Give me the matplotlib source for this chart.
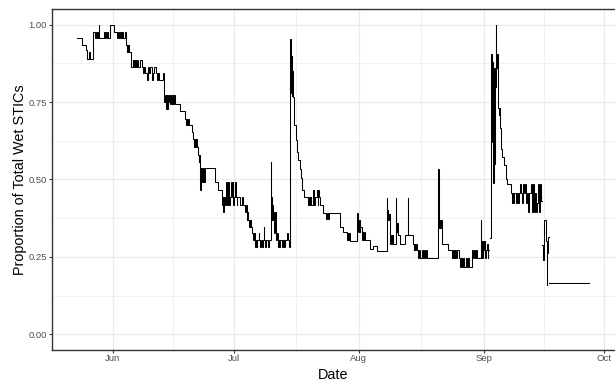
import numpy as np
import pandas as pd
import matplotlib
matplotlib.use("Agg")
import matplotlib.pyplot as plt
import matplotlib.dates as mdates
from matplotlib.ticker import FixedLocator, NullFormatter

# ---------------- data ----------------
ORIGIN = "2021-06-01"   # day offsets below are days since this date
nan = float("nan")

day_offsets = [
    -8.78, -7.54, -6.63, -6.30, -5.88, -5.63, -4.96, -4.27, -4.09, -3.90,
    -3.72, -3.45, -3.33, -2.28, -2.08, -1.79, -1.59, -1.34, -1.12, -0.67,
    0.32, 1.19, 1.36, 1.51, 1.69, 1.86, 2.03, 2.21, 2.38, 2.61,
    2.93, 3.42, 3.55, 3.67, 3.80, 3.92, 4.04, 4.42, 5.04, 5.29,
    5.61, 5.86, 6.15, 6.40, 6.77, 7.34, 7.52, 7.77, 8.09, 8.44,
    8.68, 8.93, 9.26, 9.68, 9.93, 10.25, 10.62, 10.99, 11.32, 11.61,
    12.48, 12.61, 12.98, 13.15, 13.35, 13.55, 13.72, 13.97, 14.14, 14.29,
    14.47, 14.64, 14.84, 15.01, 15.21, 15.41, 16.70, 17.94, 18.11, 18.31,
    18.51, 18.73, 18.93, 19.60, 20.00, 20.17, 20.37, 20.55, 20.79, 20.92,
    21.17, 21.29, 21.42, 21.54, 21.66, 21.79, 21.96, 22.11, 22.28, 22.48,
    22.66, 22.90, 25.38, 26.20, 27.05, 27.25, 27.44, 27.62, 27.87, 28.11,
    28.29, 28.49, 28.68, 28.86, 29.11, 29.36, 29.53, 29.73, 29.93, 30.10,
    30.35, 30.52, 30.72, 30.92, 31.59, 31.96, 32.21, 32.70, 32.95, 33.20,
    33.40, 33.65, 33.82, 33.95, 34.07, 34.19, 34.32, 34.49, 34.89, 35.06,
    35.24, 35.43, 35.68, 35.88, 36.18, 36.38, 36.55, 36.80, 37.05, 37.22,
    37.42, 37.54, 37.79, 38.04, 38.54, 38.78, 39.21, 39.28, 39.40, 39.53,
    39.65, 39.86, 40.11, 40.28, 40.45, 40.70, 40.89, 41.14, 41.34, 41.59,
    41.89, 42.18, 42.38, 42.63, 43.18, 43.57, 43.75, 44.07, 44.17, 44.24,
    44.32, 44.42, 44.49, 44.57, 44.66, 44.99, 45.48, 45.73, 46.05, 46.35,
    46.65, 47.05, 47.47, 48.54, 48.71, 48.88, 49.03, 49.21, 49.78, 49.95,
    50.12, 50.70, 50.87, 51.02, 51.19, 51.44, 52.26, 52.93, 53.10, 53.50,
    53.67, 56.40, 57.22, 58.06, 58.26, 58.46, 58.68, 58.88, 60.69, 60.79,
    60.94, 61.11, 61.29, 61.44, 61.79, 61.98, 62.18, 62.41, 62.61, 63.85,
    64.67, 65.51, 67.99, 68.11, 68.24, 68.39, 68.56, 68.81, 69.06, 69.23,
    69.43, 69.63, 70.22, 70.35, 70.47, 70.62, 70.79, 71.29, 72.53, 73.20,
    73.32, 74.59, 74.71, 74.84, 74.96, 75.14, 75.43, 75.83, 76.08, 76.33,
    76.68, 76.92, 77.25, 77.49, 77.74, 77.99, 80.80, 80.90, 81.04, 81.17,
    81.29, 81.42, 81.64, 83.28, 84.12, 84.37, 84.69, 84.94, 85.26, 85.51,
    85.81, 86.18, 86.43, 86.67, 87.00, 87.25, 87.67, 87.92, 88.24, 88.49,
    89.07, 89.32, 89.57, 89.78, 90.02, 90.32, 91.27, 91.39, 91.56, 91.71,
    91.89, 92.06, 92.26, 92.46, 92.63, 92.80, 93.00, 93.20, 93.45, 93.62,
    93.75, 93.94, 94.04, 94.30, 94.40, 94.62, 94.74, 94.86, 95.04, 95.16,
    95.29, 95.41, 95.53, 95.69, 95.78, 95.91,
    96.03, 96.10, 96.35, 96.53, 97.10, 97.59, 97.92, 98.76, 99.01, 99.16,
    99.40, 99.57, 100.15, 100.32, 100.57, 100.82, 101.07, 101.32, 101.56, 101.81,
    102.06, 102.31, 102.56, 102.80, 103.05, 103.30, 103.67, 103.92, 104.12, 104.37,
    104.62, 104.86, 105.11, 105.36, 105.53, 105.71, 105.90, 106.15, 106.45, 106.50,
    106.65, 106.89, 107.02, 107.39, 107.69, 107.77, 107.89, 108.02, 108.09, 108.18,
    108.34, 118.26,
]

proportion_wet = [
    .957, .935, .917, .891, .913, .891, .976, .957, .976, .957,
    .976, 1.0, .957, .976, .957, .976, .957, .976, .957, 1.0,
    .978, .957, .978, .957, .978, .957, .978, .957, .978, .957,
    .978, .935, .913, .935, .913, .935, .913, .865, .887, .865,
    .887, .865, .887, .865, .887, .865, .843, .865, .843, .82,
    .865, .843, .865, .82, .843, .865, .843, .82, .843, .82,
    .843, .75, .772, .729, .772, .729, .772, .75, .772, .745,
    .772, .745, .772, .745, .772, .745, .72, .697, .675, .697,
    .675, .697, .675, .654, .63, .605, .63, .605, .63, .605,
    .578, .557, .578, .557, .465, .536, .492, .536, .492, .536,
    .492, .536, .492, .465, .418, .444, .395, .444, .418, .492,
    .418, .444, .492, .418, .444, .492, .444, .492, .418, .444,
    .492, .444, .418, .444, .418, .444, .418, .395, .418, .368,
    .395, .368, .348, .368, .348, .368, .348, .326, .304, .326,
    .283, .304, .283, .304, .326, .304, .283, .304, .283, .304,
    .347, .304, .283, .304, .283, .304, .557, .444, .37, .418,
    .37, .395, .326, .395, .304, .326, .283, .304, .283, .304,
    .283, .304, .283, .304, .326, .304, .283, .955, .80, .93,
    .78, .90, .77, .85, .766, .675, .627, .59, .562, .535,
    .504, .465, .444, .417, .444, .417, .444, .417, .465, .417,
    .444, .465, .417, .465, .444, .417, .392, .371, .392, .371,
    .392, .347, .331, .305, .326, .305, .326, .302, .393, .347,
    .331, .37, .331, .347, .305, .331, .305, .331, .305, .277,
    .285, .27, .439, .37, .40, .37, .39, .293, .32, .293,
    .32, .293, .439, .36, .33, .36, .32, .293, .32, .439,
    .32, .293, .272, .293, .272, .293, .272, .245, .272, .245,
    .272, .245, .272, .245, .272, .245, .535, .368, .342, .368,
    .342, .368, .293, .272, .245, .272, .245, .272, .245, .272,
    .245, .218, .245, .218, .245, .218, .245, .218, .245, .218,
    .272, .245, .272, .245, .272, .245, .368, .245, .30, .245,
    .30, .272, .30, .245, .272, .29, .245, .272, nan, .31,
    .46, .906, .62, .88, .49, .86, .55, .80, 1.0, .906,
    .86, .906, .815, .73, .707, .73,
    .707, .665, .60, .573, .546, .50, .484, .455, .423, .455,
    .423, .455, .423, .455, .423, .455, .484, .455, .423, .484,
    .455, .484, .423, .455, .395, .455, .484, .423, .395, .484,
    .395, .455, .395, .423, .484, .395, .484, .43, nan, .288,
    .24, .288, .368, .30, .159, .261, .315, .261, .315, nan,
    .167, .167,
]

month_ticks = ["2021-06-01", "2021-07-01", "2021-08-01", "2021-09-01", "2021-10-01"]
month_labels = ["Jun", "Jul", "Aug", "Sep", "Oct"]
y_ticks = [0.0, 0.25, 0.50, 0.75, 1.00]
y_labels = ["0.00", "0.25", "0.50", "0.75", "1.00"]
x_title = "Date"
y_title = "Proportion of Total Wet STICs"

# ---------------- style ----------------
plt.rcParams["font.family"] = ["Liberation Sans", "DejaVu Sans"]
W, H = 615, 381
fig = plt.figure(figsize=(W / 100, H / 100), dpi=100)
pl, pr, pt, pb = 51.7, 615.0, 9.3, 349.7
ax = fig.add_axes([pl / W, 1 - pb / H, (pr - pl) / W, (pb - pt) / H])

dates = pd.Timestamp(ORIGIN) + pd.to_timedelta(np.array(day_offsets), unit="D")
xnum = mdates.date2num(dates.to_pydatetime())
yvals = np.array(proportion_wet, dtype=float)

ax.plot(xnum, yvals, drawstyle="steps-post", color="black", lw=0.75,
        solid_joinstyle="miter")

# ggplot-like expansion (5%)
xmin, xmax = np.nanmin(xnum), np.nanmax(xnum)
span = xmax - xmin
ax.set_xlim(xmin - 0.05 * span, xmax + 0.05 * span)
ax.set_ylim(-0.05, 1.05)

major_x = mdates.date2num(pd.to_datetime(month_ticks).to_pydatetime())
minor_x = list((major_x[:-1] + major_x[1:]) / 2)
minor_x = [major_x[0] - (major_x[1] - major_x[0]) / 2] + minor_x
lo, hi = ax.get_xlim()
minor_x = [m for m in minor_x if lo < m < hi]
ax.xaxis.set_major_locator(FixedLocator(major_x))
ax.set_xticklabels(month_labels)
ax.xaxis.set_minor_locator(FixedLocator(minor_x))
ax.xaxis.set_minor_formatter(NullFormatter())

ax.set_yticks(y_ticks)
ax.set_yticklabels(y_labels)
y_minor = [(a + b) / 2 for a, b in zip(y_ticks[:-1], y_ticks[1:])]
ax.yaxis.set_minor_locator(FixedLocator(y_minor))
ax.yaxis.set_minor_formatter(NullFormatter())

ax.set_axisbelow(True)
ax.grid(which="major", color="#EBEBEB", lw=1.0)
ax.grid(which="minor", color="#EBEBEB", lw=0.5)

ax.tick_params(which="major", length=2.2, width=0.8, color="#333333",
               labelsize=6.8, labelcolor="#4D4D4D")
ax.tick_params(axis="y", which="major", pad=1.3)
ax.tick_params(axis="x", which="major", pad=1.2)
ax.tick_params(which="minor", length=0)

for side, sp in ax.spines.items():
    sp.set_color("#333333")
    sp.set_linewidth(1.0)
ax.spines["right"].set_visible(False)

fig.text((pl + pr) / 2 / W, 2.0 / H, x_title, ha="center", va="baseline",
         fontsize=10.4, color="black")
fig.text(20.0 / W, 1 - (pt + pb) / 2 / H, y_title, ha="center", va="center",
         rotation=90, fontsize=10.4, color="black")

fig.savefig("out.png", dpi=100)
